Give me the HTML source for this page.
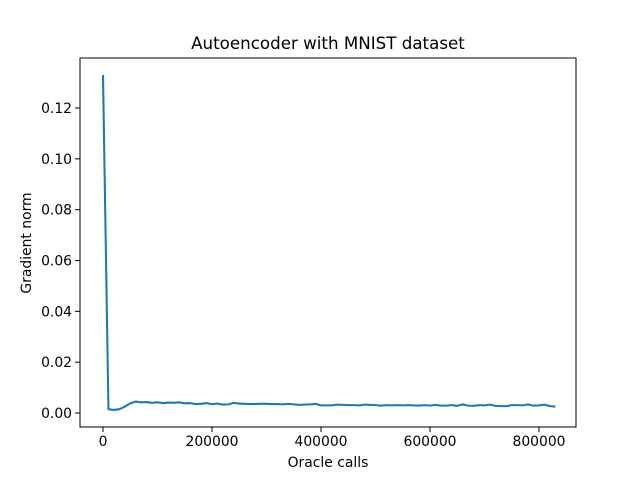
<!DOCTYPE html>
<html><head><meta charset="utf-8"><style>
body{margin:0;background:#fff;font-family:"Liberation Sans","DejaVu Sans",sans-serif;}
svg text{font-family:"DejaVu Sans","Liberation Sans",sans-serif;}
</style></head><body>
<svg width="640" height="480" xmlns="http://www.w3.org/2000/svg">
<rect width="640" height="480" fill="#fff"/>
<text x="328" y="49" font-size="16.7" text-anchor="middle">Autoencoder with MNIST dataset</text>
<g id="ticks"></g>
<path id="line" fill="none" stroke="#1f77b4" stroke-width="2.08" stroke-linejoin="round"/>
<rect x="80" y="58" width="496" height="369" fill="none" stroke="#000" stroke-width="1"/>
<text x="328" y="467" font-size="13.9" text-anchor="middle">Oracle calls</text>
<text x="31" y="243" font-size="13.9" text-anchor="middle" transform="rotate(-90 31 243)">Gradient norm</text>
</svg>
<script>
const step = 10000;
const values = [0.133,0.0015,0.0012,0.0015,0.0025,0.0038,0.0045,0.0042,0.0043,0.004,0.0042,0.0039,0.0041,0.004,0.0042,0.0038,0.0039,0.0035,0.0036,0.0039,0.0035,0.0037,0.0033,0.0034,0.0040,0.0037,0.0036,0.0035,0.0035,0.0036,0.0036,0.0035,0.0035,0.0034,0.0036,0.0034,0.0032,0.0033,0.0034,0.0036,0.0030,0.0030,0.0030,0.0033,0.0032,0.0031,0.0031,0.0030,0.0033,0.0032,0.0031,0.0029,0.0031,0.0030,0.0031,0.0030,0.0031,0.0030,0.0029,0.0031,0.0029,0.0032,0.0029,0.0029,0.0031,0.0028,0.0034,0.0029,0.0028,0.0031,0.0030,0.0033,0.0028,0.0027,0.0027,0.0031,0.0031,0.0030,0.0034,0.0029,0.0030,0.0033,0.0027,0.0025];
const xTicks = [0,200000,400000,600000,800000];
const yTicks = [0.00,0.02,0.04,0.06,0.08,0.10,0.12];
const xs = v => 103 + v*436/800000;
const ys = v => 413 - v*305/0.12;
const NS="http://www.w3.org/2000/svg";
const g=document.getElementById('ticks');
function mk(tag,attrs){const e=document.createElementNS(NS,tag);for(const k in attrs)e.setAttribute(k,attrs[k]);g.appendChild(e);return e;}
xTicks.forEach(t=>{
  const l=mk('line',{x1:xs(t),x2:xs(t),y1:427,y2:432,stroke:'#000'});
  
  
  const tx=mk('text',{x:xs(t),y:446,'font-size':13.9,'text-anchor':'middle'});
  tx.textContent=String(t);
  
  
});
yTicks.forEach(t=>{
  const l=mk('line',{x1:75,x2:80,y1:ys(t),y2:ys(t),stroke:'#000'});
  
  
  const tx=mk('text',{x:72,y:ys(t)+5,'font-size':13.9,'text-anchor':'end'});
  tx.textContent=t.toFixed(2);
  
  
});
document.getElementById('line').setAttribute('d',values.map((v,i)=>(i?'L':'M')+xs(i*step).toFixed(2)+','+ys(v).toFixed(2)).join(' '));
</script>
</body></html>
